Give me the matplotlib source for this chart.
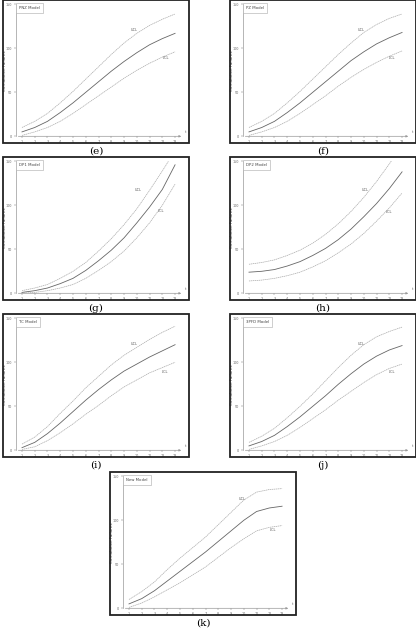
import matplotlib
matplotlib.use("Agg")
import matplotlib.pyplot as plt
from matplotlib.patches import Rectangle

t = list(range(1, 14))
x_ticks = list(range(1, 14))
y_ticks = [0, 50, 100, 150]
y_label = "Cumulative Failures"

models = ["PNZ Model", "PZ Model", "DP1 Model", "DP2 Model", "TC Model", "3PFD Model", "New Model"]
captions = ["(e)", "(f)", "(g)", "(h)", "(i)", "(j)", "(k)"]

mean_e = [5, 10, 17, 27, 38, 50, 62, 74, 85, 95, 104, 111, 117]
ucl_e = [10, 17, 26, 38, 51, 65, 79, 93, 106, 117, 126, 133, 139]
lcl_e = [1, 5, 10, 17, 26, 36, 46, 56, 66, 75, 83, 90, 96]

mean_f = [5, 10, 17, 27, 38, 50, 62, 74, 86, 96, 105, 112, 118]
ucl_f = [10, 17, 26, 38, 51, 65, 79, 93, 106, 118, 127, 134, 139]
lcl_f = [1, 5, 10, 17, 26, 36, 46, 57, 67, 76, 84, 91, 97]

mean_g = [1, 3, 6, 11, 17, 26, 37, 49, 63, 80, 98, 118, 146]
ucl_g = [3, 6, 10, 17, 25, 35, 48, 62, 78, 96, 117, 139, 162]
lcl_g = [0, 1, 3, 6, 10, 17, 26, 36, 48, 63, 80, 100, 124]

mean_h = [24, 25, 27, 31, 36, 43, 51, 61, 73, 87, 102, 119, 138]
ucl_h = [33, 35, 38, 43, 49, 57, 67, 79, 93, 109, 127, 147, 168]
lcl_h = [14, 15, 17, 20, 24, 30, 37, 46, 56, 68, 82, 97, 114]

mean_i = [3, 9, 19, 31, 44, 57, 69, 80, 90, 98, 106, 113, 120]
ucl_i = [7, 15, 27, 42, 56, 71, 84, 97, 108, 117, 126, 134, 141]
lcl_i = [1, 4, 11, 20, 30, 41, 51, 62, 72, 80, 88, 94, 100]

mean_j = [5, 10, 17, 27, 38, 50, 62, 75, 87, 98, 107, 114, 119]
ucl_j = [9, 16, 25, 37, 50, 64, 79, 94, 108, 120, 129, 135, 140]
lcl_j = [1, 5, 10, 17, 26, 36, 46, 57, 67, 77, 86, 93, 98]

mean_k = [5, 11, 20, 31, 42, 53, 64, 76, 88, 100, 110, 114, 116]
ucl_k = [10, 19, 30, 44, 57, 69, 81, 95, 109, 123, 132, 135, 136]
lcl_k = [1, 6, 13, 21, 29, 38, 47, 58, 69, 79, 88, 92, 94]

means = [mean_e, mean_f, mean_g, mean_h, mean_i, mean_j, mean_k]
ucls = [ucl_e, ucl_f, ucl_g, ucl_h, ucl_i, ucl_j, ucl_k]
lcls = [lcl_e, lcl_f, lcl_g, lcl_h, lcl_i, lcl_j, lcl_k]
ucl_pos = [(9.8, 121), (9.8, 121), (10.1, 117), (10.1, 117), (9.8, 121), (9.8, 121), (9.9, 124)]
lcl_pos = [(12.3, 89), (12.2, 89), (11.85, 93), (12.0, 92), (12.2, 89), (12.2, 89), (12.3, 89)]

W, H = 416, 630
fig = plt.figure(figsize=(W / 100, H / 100), dpi=100)
fig.patch.set_facecolor("white")

# panel boxes in pixels (x0, y0 from top)
boxes = [(3, 0), (230, 0), (3, 157), (230, 157), (3, 314), (230, 314), (110, 472)]
BW, BH = 186, 143

for i, (bx, by) in enumerate(boxes):
    fig.patches.append(Rectangle((bx / W, 1 - (by + BH) / H), BW / W, BH / H,
                                 transform=fig.transFigure, fill=False,
                                 edgecolor="#222222", linewidth=1.3, zorder=5))
    fig.text((bx + BW / 2) / W, 1 - (by + BH + 8) / H, captions[i],
             ha="center", va="center", fontsize=7.5, family="DejaVu Serif")
    xl, xr = 0.5, 13.7
    left = bx + 12.6
    right = bx + 181
    top = by + 4.3
    bottom = by + 136.3
    ax = fig.add_axes([left / W, 1 - bottom / H, (right - left) / W, (bottom - top) / H])
    ax.set_xlim(xl, xr)
    ax.set_ylim(0, 150)
    for s in ["top", "right", "bottom"]:
        ax.spines[s].set_visible(False)
    ax.spines["left"].set_color("#999999")
    ax.spines["left"].set_linewidth(0.5)
    ax.annotate("", xy=(1.0, 0), xytext=(0.0, 0), xycoords="axes fraction",
                arrowprops=dict(arrowstyle="-|>", color="#999999", lw=0.5,
                                mutation_scale=3))
    ax.text(1.005, 0.02, "t", transform=ax.transAxes, fontsize=2.5,
            color="#555555", ha="left", va="bottom")
    ax.set_xticks(x_ticks)
    ax.set_xticklabels([str(v) for v in x_ticks])
    ax.set_yticks(y_ticks)
    ax.set_yticklabels([str(v) for v in y_ticks])
    ax.tick_params(axis="both", labelsize=2.4, length=1.2, width=0.3,
                   colors="#666666", pad=1.5)
    ax.set_ylabel(y_label, fontsize=3, color="#444444")
    ax.yaxis.set_label_coords(-0.052, 0.5)
    ax.patch.set_alpha(0)

    ax.plot(t, ucls[i], color="#aaaaaa", lw=0.5, ls=(0, (2, 0.8)))
    ax.plot(t, lcls[i], color="#aaaaaa", lw=0.5, ls=(0, (2, 0.8)))
    ax.plot(t, means[i], color="#666666", lw=0.6)

    ax.text(ucl_pos[i][0], ucl_pos[i][1], "UCL", fontsize=2.5, color="#555555",
            ha="center", va="center")
    ax.text(lcl_pos[i][0], lcl_pos[i][1], "LCL", fontsize=2.5, color="#555555",
            ha="center", va="center")
    ax.text(0.02, 0.985, models[i], transform=ax.transAxes, fontsize=2.8,
            color="#444444", ha="left", va="top",
            bbox=dict(boxstyle="square,pad=0.8", fc="white", ec="#aaaaaa", lw=0.4))

fig.savefig("out.png", dpi=100)
